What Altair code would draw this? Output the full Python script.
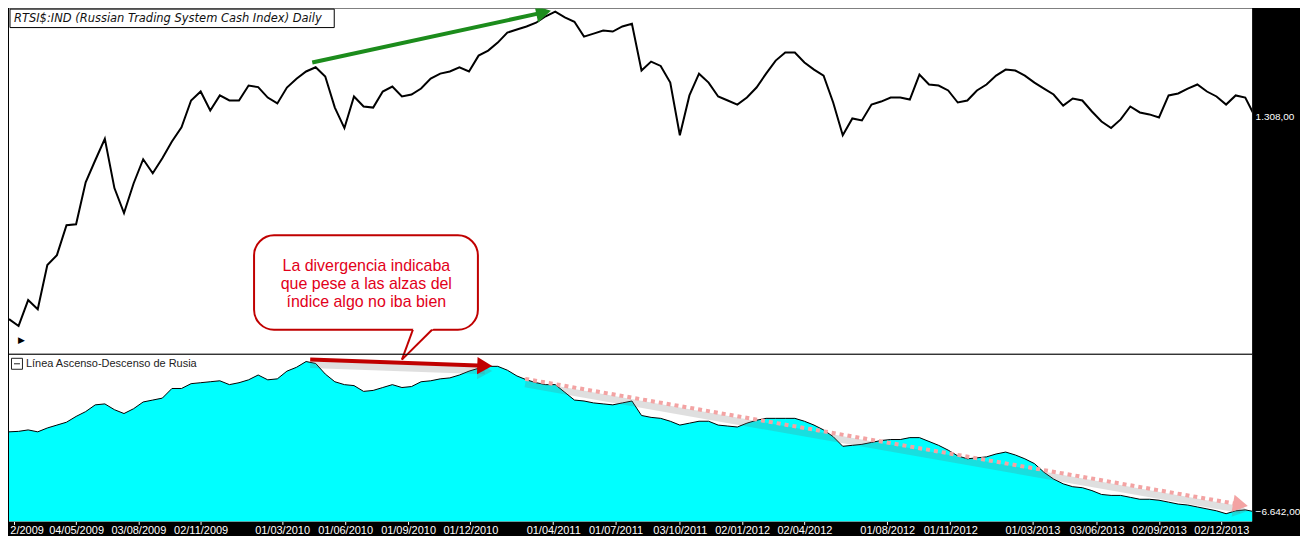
import altair as alt
import pandas as pd

# one reading every two weeks, late Jan 2009 -> Jan 2014
START = "2009-01-26"
STEP = "14D"
X_RANGE = ["2009-01-26", "2014-01-16"]

# RTSI$ index level (upper panel, log scale)
rtsi_close = [
    517, 501, 564, 541, 662, 693, 795, 798, 967, 1070,
    1180, 942, 840, 962, 1075, 1008, 1080, 1166, 1244, 1407,
    1466, 1344, 1440, 1407, 1407, 1507, 1496, 1426, 1388, 1493,
    1555, 1607, 1638, 1570, 1362, 1240, 1433, 1369, 1362, 1466,
    1500, 1433, 1446, 1486, 1555, 1591, 1607, 1638, 1607, 1728,
    1768, 1834, 1920, 1947, 1975, 2009, 2069, 2113, 2059, 2018,
    1885, 1911, 1938, 1929, 1975, 1999, 1614, 1681, 1648, 1527,
    1200, 1440, 1591, 1527, 1433, 1407, 1381, 1426, 1493, 1591,
    1689, 1753, 1753, 1674, 1621, 1577, 1394, 1200, 1296, 1284,
    1381, 1400, 1426, 1426, 1413, 1584, 1514, 1507, 1473, 1394,
    1407, 1473, 1514, 1577, 1621, 1614, 1577, 1527, 1486, 1446,
    1374, 1420, 1407, 1338, 1278, 1240, 1290, 1369, 1332, 1320,
    1302, 1440, 1453, 1486, 1514, 1466, 1433, 1381, 1440, 1426,
    1308,
]

# advance-decline line (lower panel)
ad_line = [
    -1662, -1632, -1542, -1662, -1422, -1242, -1062, -702, -402, 18,
    78, -282, -522, -222, 198, 318, 438, 1038, 1038, 1338,
    1398, 1458, 1518, 1278, 1398, 1578, 1878, 1578, 1638, 2118,
    2358, 2718, 2598, 1938, 1458, 1278, 1218, 858, 918, 1098,
    1278, 1098, 1158, 1458, 1518, 1638, 1698, 1878, 2118, 2298,
    2418, 2418, 2178, 1818, 1578, 1398, 1278, 1278, 798, 318,
    258, 138, 78, 18, 138, 258, -642, -762, -822, -1002,
    -1242, -1122, -1002, -1002, -1242, -1302, -1362, -1122, -942, -822,
    -822, -822, -822, -1002, -1242, -1542, -1962, -2562, -2502, -2442,
    -2322, -2202, -2142, -2142, -2022, -2022, -2262, -2502, -2802, -3162,
    -3342, -3282, -3222, -3042, -2922, -3102, -3342, -3642, -4182, -4602,
    -4902, -5082, -5142, -5322, -5562, -5622, -5622, -5742, -5862, -5862,
    -5922, -6042, -6162, -6222, -6342, -6462, -6582, -6762, -6582, -6522,
    -6642,
]

PRICE_RANGE = [441, 2143]
AD_RANGE = [-7242, 3198]
LAST_PRICE = 1308
LAST_AD = -6642

tick_dates = [
    "2009-02-02", "2009-05-04", "2009-08-03", "2009-11-02", "2010-03-01",
    "2010-06-01", "2010-09-01", "2010-12-01", "2011-04-01", "2011-07-01",
    "2011-10-03", "2012-01-02", "2012-04-02", "2012-08-01", "2012-11-01",
    "2013-03-01", "2013-06-03", "2013-09-02", "2013-12-02",
]

TITLE = "RTSI$:IND (Russian Trading System Cash Index) Daily"
AD_TITLE = "Línea Ascenso-Descenso de Rusia"
NOTE = "La divergencia indicaba\nque pese a las alzas del\níndice algo no iba bien"

# arrows: shaft start (x, y) and head centre (xe, ye)
green_arrow = {"x": ["2010-04-14"], "y": [1674], "xe": ["2011-03-18"], "ye": [2106]}
red_arrow = {"x": ["2010-04-11"], "y": [2838], "xe": ["2010-12-22"], "ye": [2450]}
pink_arrow = {"x": ["2011-02-19"], "y": [1638], "xe": ["2013-12-30"], "ye": [-6198]}

# speech bubble, drawn in lower-panel units
bubble = {"x": ["2010-01-19"], "xe": ["2010-12-12"], "y": [10578], "ye": [4698]}
tail_fill = {"v": [2838, 4938], "xa": ["2010-08-23", "2010-09-10"], "xb": ["2010-08-23", "2010-10-12"]}
tail_edges = {"x": ["2010-09-08", "2010-10-06"], "y": [4698, 4698],
              "xe": ["2010-08-23", "2010-08-23"], "ye": [2838, 2838]}
note_at = {"x": ["2010-07-02"], "y": [8658], "text": [NOTE]}

PLOT_W = 1246
TOP_H = 346
BOT_H = 168
HEAD = 300


def stamp(d):
    return d + "T00:00:00"


def dt(d):
    y, m, day = (int(p) for p in d.split("-"))
    return alt.DateTime(year=y, month=m, date=day)


def frame(cols, date_cols=("x", "xe")):
    df = pd.DataFrame(cols)
    for c in date_cols:
        if c in df:
            df[c] = df[c].map(stamp)
    return df


x_scale = alt.Scale(domain=[dt(X_RANGE[0]), dt(X_RANGE[1])], nice=False)
price_scale = alt.Scale(type="log", domain=PRICE_RANGE, nice=False)
ad_scale = alt.Scale(domain=AD_RANGE, nice=False, zero=False)


def xe(field):
    return alt.X(f"{field}:T", scale=x_scale, title=None)


def ye(field, scale):
    return alt.Y(f"{field}:Q", scale=scale, title=None)


# 1,308.00 -> 1.308,00
euro_fmt = ("replace(replace(replace(format(datum.value, ',.2f'), ',', '#'), "
            "'.', ','), '#', '.')")
right_axis = dict(orient="right", title=None, ticks=False, domain=False, grid=False,
                  labelColor="white", labelFont="Liberation Sans", labelFontSize=10,
                  labelPadding=3, labelExpr=euro_fmt, minExtent=46, maxExtent=46)

series = pd.DataFrame({
    "date": pd.date_range(START, periods=len(rtsi_close), freq=STEP).strftime("%Y-%m-%dT00:00:00"),
    "rtsi": rtsi_close,
    "ad": ad_line,
})


def arrow(cols, yscale, color, width, angle, dash=None, shadow=False, clip=False):
    data = frame(cols)
    line_enc = dict(x=xe("x"), x2="xe", y=ye("y", yscale), y2="ye")
    head_enc = dict(x=xe("xe"), y=ye("ye", yscale))
    out = []
    if shadow:
        out.append(alt.Chart(data).mark_rule(color="#6f6f6f", strokeWidth=width + 3, opacity=0.22,
                                             yOffset=5, y2Offset=5).encode(**line_enc))
        out.append(alt.Chart(data).mark_point(shape="triangle-right", filled=True, size=HEAD,
                                              angle=angle, color="#6f6f6f", opacity=0.25,
                                              strokeWidth=0, yOffset=5).encode(**head_enc))
    rule_kw = dict(color=color, strokeWidth=width, clip=clip)
    if dash:
        rule_kw["strokeDash"] = dash
    out.append(alt.Chart(data).mark_rule(**rule_kw).encode(**line_enc))
    out.append(alt.Chart(data).mark_point(shape="triangle-right", filled=True, size=HEAD,
                                          angle=angle, color=color, opacity=1, clip=clip,
                                          strokeWidth=0).encode(**head_enc))
    return out


# ---- upper panel: index
price_line = alt.Chart(series).mark_line(color="black", strokeWidth=2, clip=True).encode(
    x=alt.X("date:T", scale=x_scale, axis=None),
    y=alt.Y("rtsi:Q", scale=price_scale, axis=alt.Axis(values=[LAST_PRICE], **right_axis)),
)

one = pd.DataFrame({"label": [TITLE]})
title_box = alt.Chart(one).mark_rect(fill="white", stroke="black", strokeWidth=1).encode(
    x=alt.value(1), x2=alt.value(326), y=alt.value(0.5), y2=alt.value(19))
title_text = alt.Chart(one).mark_text(
    align="left", baseline="middle", font="DejaVu Sans", fontStyle="italic",
    fontSize=11.5, color="#111111").encode(x=alt.value(5), y=alt.value(10), text="label:N")
play_icon = alt.Chart(pd.DataFrame({"label": ["▶"]})).mark_text(
    align="left", baseline="middle", font="DejaVu Sans", fontSize=9, color="black").encode(
    x=alt.value(9), y=alt.value(332), text="label:N")

top = alt.layer(
    price_line,
    *arrow(green_arrow, price_scale, "#1c8c1c", 4, 348, clip=True),
    title_box, title_text, play_icon,
).properties(width=PLOT_W, height=TOP_H)

# ---- lower panel: advance-decline line
ad_area = alt.Chart(series).mark_area(
    color="#00FFFF", opacity=1, clip=True, line={"color": "black", "strokeWidth": 1}).encode(
    x=alt.X("date:T", scale=x_scale, axis=alt.Axis(
        values=[dt(d) for d in tick_dates], format="%d/%m/%Y",
        labelExpr="datum.index == 0 ? '2/2009' : datum.label",
        labelFlush=10, labelFlushOffset=4, labelOverlap=False,
        labelColor="white", labelFont="Liberation Sans", labelFontSize=11, labelPadding=0,
        tickColor="white", tickSize=3, domain=False, grid=False, title=None,
        minExtent=14, maxExtent=14)),
    y=alt.Y("ad:Q", scale=ad_scale, axis=alt.Axis(values=[LAST_AD], **right_axis)),
    y2=alt.Y2Datum(AD_RANGE[0]),
)

separator = alt.Chart(pd.DataFrame({"k": [0]})).mark_rule(color="black", strokeWidth=1).encode(
    y=alt.value(0.5))

bubble_rect = alt.Chart(frame(bubble)).mark_rect(
    cornerRadius=20, fill="white", stroke="#c00000", strokeWidth=2).encode(
    x=xe("x"), x2="xe", y=ye("y", ad_scale), y2="ye")
tail = alt.Chart(frame(tail_fill, ("xa", "xb"))).mark_area(
    orient="horizontal", color="white", opacity=1).encode(
    y=ye("v", ad_scale), x=xe("xa"), x2="xb")
tail_lines = alt.Chart(frame(tail_edges)).mark_rule(color="#c00000", strokeWidth=2).encode(
    x=xe("x"), x2="xe", y=ye("y", ad_scale), y2="ye")
note = alt.Chart(frame(note_at)).mark_text(
    align="center", baseline="middle", lineBreak="\n", lineHeight=18,
    font="Liberation Sans", fontSize=16, color="#e2001a").encode(
    x=xe("x"), y=ye("y", ad_scale), text="text:N")

icon_data = pd.DataFrame({"label": [AD_TITLE]})
icon_box = alt.Chart(icon_data).mark_rect(fill="white", stroke="#222222", strokeWidth=1).encode(
    x=alt.value(2.5), x2=alt.value(13.5), y=alt.value(4.5), y2=alt.value(15.5))
icon_minus = alt.Chart(icon_data).mark_rule(color="#222222", strokeWidth=1).encode(
    x=alt.value(5), x2=alt.value(11), y=alt.value(10))
ad_label = alt.Chart(icon_data).mark_text(
    align="left", baseline="middle", font="Liberation Sans", fontSize=11, color="#222222").encode(
    x=alt.value(17), y=alt.value(10), text="label:N")

bottom = alt.layer(
    ad_area,
    *arrow(pink_arrow, ad_scale, "#f3a3a3", 4, 10, dash=[4, 4], shadow=True),
    bubble_rect, tail, tail_lines, note,
    *arrow(red_arrow, ad_scale, "#c00000", 4, 2, shadow=True),
    separator, icon_box, icon_minus, ad_label,
).properties(width=PLOT_W, height=BOT_H)

chart = (
    alt.vconcat(top, bottom, spacing=0, bounds="flush")
    .properties(background="black", padding=0)
    .configure_view(fill="white", strokeWidth=0)
)

chart.save("out.html", embed_options={"renderer": "svg", "actions": False})
